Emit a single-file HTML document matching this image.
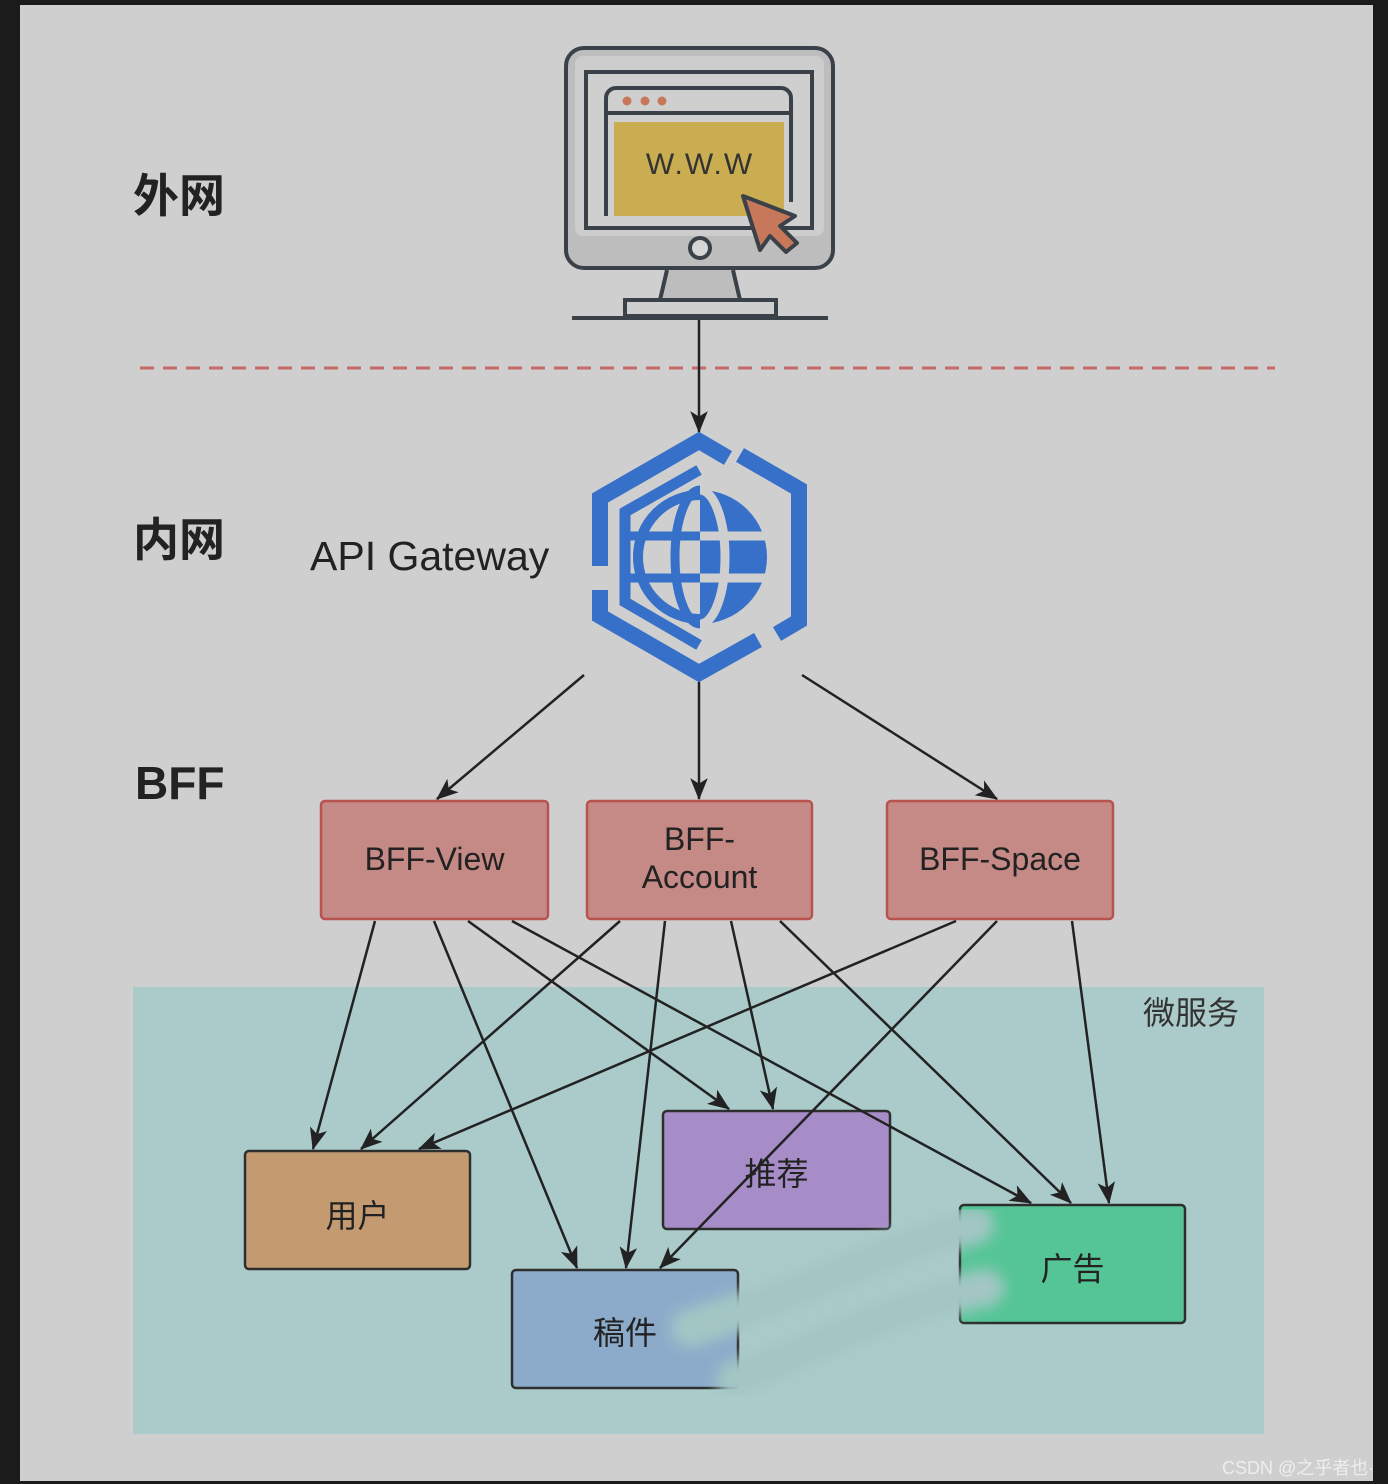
<!DOCTYPE html>
<html><head><meta charset="utf-8"><style>
html,body{margin:0;padding:0;background:#1b1b1b;}
#c{position:relative;width:1388px;height:1484px;overflow:hidden;background:#1b1b1b;}
.t{position:absolute;font-family:"Liberation Sans","Noto Sans CJK SC",sans-serif;color:#222;}
</style></head><body><div id="c">
<svg width="1388" height="1484" style="position:absolute;left:0;top:0">
<defs>
<marker id="a" markerWidth="22" markerHeight="22" refX="19" refY="8" orient="auto" markerUnits="userSpaceOnUse" viewBox="0 0 20 16"><path d="M0,0 L20,8 L0,16 L5,8 z" fill="#222"/></marker>
<filter id="bl"><feGaussianBlur stdDeviation="7"/></filter>
<clipPath id="rh"><rect x="700" y="480" width="80" height="160"/></clipPath>
<clipPath id="lh"><rect x="620" y="480" width="80" height="160"/></clipPath>
</defs>
<rect x="20" y="5" width="1353" height="1476" fill="#cfcfcf"/>
<rect x="133" y="987" width="1131" height="447" fill="#abcbca"/>
<line x1="140" y1="368" x2="1275" y2="368" stroke="#c76a6a" stroke-width="3" stroke-dasharray="14,9"/>
<g stroke="#3a4149" stroke-width="4" fill="none">
<rect x="566" y="48" width="267" height="220" rx="18" fill="#bdbdbd"/>
<rect x="575" y="56" width="249" height="180" rx="8" fill="#cdcdcd" stroke="none"/>
<rect x="586" y="72" width="226" height="156" fill="#cfcfcf"/>
<path d="M606,216 V98 a10,10 0 0 1 10,-10 H781 a10,10 0 0 1 10,10 V202"/>
<line x1="606" y1="113" x2="791" y2="113"/>
<circle cx="700" cy="248" r="10" fill="#d6d6d6"/>
<path d="M667,270 L660,300 H740 L733,270" fill="#bdbdbd"/>
<rect x="625" y="300" width="151" height="16" fill="#cfcfcf"/>
<line x1="572" y1="318" x2="828" y2="318"/>
</g>
<rect x="614" y="122" width="170" height="94" fill="#c9ad50"/>
<circle cx="627" cy="101" r="4.5" fill="#c8785a"/><circle cx="645" cy="101" r="4.5" fill="#c8785a"/><circle cx="662" cy="101" r="4.5" fill="#c8785a"/>
<text x="700" y="174" text-anchor="middle" font-family="Liberation Sans,sans-serif" font-size="30" fill="#333" letter-spacing="2">W.W.W</text>
<path d="M743,196 L795,216 L780,226 L797,243 L786,252 L770,236 L760,250 Z" fill="#c8785a" stroke="#3a4149" stroke-width="4" stroke-linejoin="round"/>
<g stroke="#3670c8" stroke-width="16" fill="none" stroke-linejoin="miter">
<polyline points="728,458 699,441 600,498 600,566"/>
<polyline points="600,590 600,616 699,673 758,640"/>
<polyline points="740,455 799,489 799,621 777,634"/>
</g>
<path d="M699,470 L625,512 V602 L699,645" stroke="#3670c8" stroke-width="11" fill="none"/>
<circle cx="700" cy="557" r="67" fill="#3670c8" clip-path="url(#rh)"/>
<circle cx="700" cy="557" r="62" fill="none" stroke="#3670c8" stroke-width="10" clip-path="url(#lh)"/>
<g stroke="#cfcfcf" stroke-width="9" fill="none" clip-path="url(#rh)">
<ellipse cx="700" cy="557" rx="25" ry="67"/><line x1="690" y1="536" x2="780" y2="536"/><line x1="690" y1="578" x2="780" y2="578"/>
</g>
<g stroke="#3670c8" stroke-width="9" fill="none" clip-path="url(#lh)">
<ellipse cx="700" cy="557" rx="25" ry="67"/><line x1="620" y1="536" x2="702" y2="536"/><line x1="620" y1="578" x2="702" y2="578"/>
</g>
<g stroke="#b85450" stroke-width="2.5" fill="#c58986">
<rect x="321" y="801" width="227" height="118" rx="4"/>
<rect x="587" y="801" width="225" height="118" rx="4"/>
<rect x="887" y="801" width="226" height="118" rx="4"/>
</g>
<g stroke="#2e2e2e" stroke-width="2.5">
<rect x="245" y="1151" width="225" height="118" rx="4" fill="#c49b71"/>
<rect x="663" y="1111" width="227" height="118" rx="4" fill="#a78dc7"/>
<rect x="512" y="1270" width="226" height="118" rx="4" fill="#8cabca"/>
<rect x="960" y="1205" width="225" height="118" rx="4" fill="#56c596"/>
</g>
<g stroke="#222" stroke-width="2.5" marker-end="url(#a)">
<line x1="699" y1="320" x2="699" y2="432"/>
<line x1="584" y1="675" x2="437" y2="799"/>
<line x1="699" y1="682" x2="699" y2="799"/>
<line x1="802" y1="675" x2="997" y2="799"/>
<line x1="375" y1="921" x2="313" y2="1149"/>
<line x1="434" y1="921" x2="577" y2="1268"/>
<line x1="468" y1="921" x2="729" y2="1109"/>
<line x1="512" y1="921" x2="1031" y2="1203"/>
<line x1="620" y1="921" x2="361" y2="1149"/>
<line x1="665" y1="921" x2="626" y2="1268"/>
<line x1="731" y1="921" x2="773" y2="1109"/>
<line x1="780" y1="921" x2="1071" y2="1203"/>
<line x1="956" y1="921" x2="419" y2="1149"/>
<line x1="997" y1="921" x2="660" y2="1268"/>
<line x1="1072" y1="921" x2="1109" y2="1203"/>
</g>
<path d="M690,1328 C800,1295 880,1250 975,1225 M735,1380 C830,1340 900,1305 985,1288" stroke="#a3c6c4" stroke-width="38" fill="none" stroke-linecap="round" filter="url(#bl)"/>
</svg>
<div class="t" style="left:133px;top:160px;font-size:46px;font-weight:bold;">外网</div>
<div class="t" style="left:133px;top:504px;font-size:46px;font-weight:bold;">内网</div>
<div class="t" style="left:135px;top:756px;font-size:46px;font-weight:bold;">BFF</div>
<div class="t" style="left:310px;top:533px;font-size:41px;">API Gateway</div>
<div class="t" style="left:1143px;top:988px;font-size:32px;color:#333;">微服务</div>
<div class="t" style="left:321px;top:841px;width:227px;text-align:center;font-size:32px;">BFF-View</div>
<div class="t" style="left:587px;top:820px;width:225px;text-align:center;font-size:32px;line-height:38px;">BFF-<br>Account</div>
<div class="t" style="left:887px;top:841px;width:226px;text-align:center;font-size:32px;">BFF-Space</div>
<div class="t" style="left:245px;top:1191px;width:225px;text-align:center;font-size:32px;">用户</div>
<div class="t" style="left:663px;top:1149px;width:227px;text-align:center;font-size:32px;">推荐</div>
<div class="t" style="left:512px;top:1308px;width:226px;text-align:center;font-size:32px;">稿件</div>
<div class="t" style="left:960px;top:1244px;width:225px;text-align:center;font-size:32px;">广告</div>
<div class="t" style="left:1222px;top:1454px;font-size:18px;color:#eee;">CSDN @之乎者也·</div>
</div></body></html>
